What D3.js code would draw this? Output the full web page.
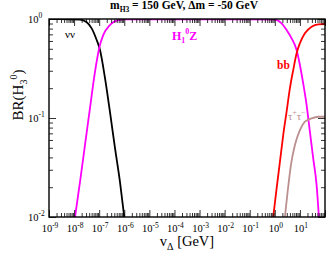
<!DOCTYPE html>
<html>
<head>
<meta charset="utf-8">
<script src="https://cdn.jsdelivr.net/npm/d3@7"></script>
<style>
  body { margin: 0; background: #fff; }
  svg { display: block; font-family: "Liberation Serif", "DejaVu Serif", serif; }
</style>
</head>
<body>
<div id="chart"></div>
<script>
// H3^0 -> nu nu
const nunuV  = [1e-9, 2.8e-9, 1.72e-8, 3.18e-8, 5.02e-8, 7.94e-8, 1.08e-7, 1.70e-7, 2.69e-7, 4.26e-7, 6.74e-7, 1.0e-6];
const nunuBR = [1.0, 1.0, 0.984, 0.926, 0.805, 0.614, 0.486, 0.254, 0.115, 0.0498, 0.0226, 0.01];

// H3^0 -> H1^0 Z
const h1zV  = [1.09e-8, 1.72e-8, 2.72e-8, 4.30e-8, 6.80e-8, 1.01e-7, 1.46e-7, 2.69e-7, 5.77e-7, 1.25e-6, 0.0644, 1.01, 1.87, 2.95, 4.67, 7.39, 10.0, 13.5, 18.5, 25.0, 33.9, 46.2, 57.1];
const h1zBR = [0.01, 0.0226, 0.0534, 0.126, 0.292, 0.513, 0.69, 0.87, 0.975, 0.993, 0.993, 0.985, 0.905, 0.774, 0.638, 0.486, 0.343, 0.224, 0.135, 0.0727, 0.0392, 0.0211, 0.01];

// H3^0 -> b b
const bbV  = [0.863, 1.18, 1.60, 2.16, 2.95, 4.00, 5.41, 7.39, 10.0, 15.8, 29.2, 53.6, 100];
const bbBR = [0.01, 0.0195, 0.0362, 0.0673, 0.116, 0.200, 0.305, 0.451, 0.569, 0.718, 0.836, 0.884, 0.890];

// H3^0 -> tau tau
const tauV  = [2.52, 3.24, 4.38, 6.32, 10.0, 15.8, 29.2, 53.6, 100];
const tauBR = [0.01, 0.018, 0.0335, 0.0534, 0.0756, 0.0918, 0.0993, 0.103, 0.103];

const xMajor = [-9, -8, -7, -6, -5, -4, -3, -2, -1, 0, 1];   // labelled exponents
const yMajor = [0, -1, -2];

const width = 327, height = 255;
const margin = { top: 19, right: 2, bottom: 38, left: 49 };
const w = width - margin.left - margin.right;
const h = height - margin.top - margin.bottom;

const svg = d3.select("#chart").append("svg")
    .attr("width", width)
    .attr("height", height);

const g = svg.append("g")
    .attr("transform", `translate(${margin.left},${margin.top})`);

const x = d3.scaleLog().domain([1e-9, 1e2]).range([0, w]);
const y = d3.scaleLog().domain([1e-2, 1]).range([h, 0]);

const xAll = x.ticks(20);
const yAll = y.ticks(20);
const isPow = v => Math.abs(Math.log10(v) - Math.round(Math.log10(v))) < 1e-6;
const xMin = xAll.filter(v => !isPow(v)), xMaj = xAll.filter(isPow);
const yMin = yAll.filter(v => !isPow(v)), yMaj = yAll.filter(isPow);

g.append("clipPath").attr("id", "clip")
  .append("rect").attr("width", w).attr("height", h);

// curves
const series = [
    { v: nunuV, br: nunuBR, color: "#000000" },
    { v: h1zV, br: h1zBR, color: "#ff00ff" },
    { v: tauV, br: tauBR, color: "#bc8f8f" },
    { v: bbV, br: bbBR, color: "#ff0000" }
];

const line = d3.line()
    .x(d => x(d[0]))
    .y(d => y(d[1]))
    .curve(d3.curveMonotoneX);

g.append("g").attr("clip-path", "url(#clip)")
  .selectAll("path")
  .data(series)
  .enter()
  .append("path")
  .attr("d", s => line(s.v.map((v, i) => [v, s.br[i]])))
  .attr("fill", "none")
  .attr("stroke", s => s.color)
  .attr("stroke-width", 1.8);

// ticks, inside on all four sides
function tickAxis(axis, values, size) {
    return axis.tickValues(values).tickSizeInner(-size).tickSizeOuter(0).tickFormat("");
}
const tickStyle = sel => {
    sel.select(".domain").remove();
    sel.selectAll(".tick line").attr("stroke", "#000").attr("stroke-width", 0.8);
};

g.append("g").attr("transform", `translate(0,${h})`).call(tickAxis(d3.axisBottom(x), xMin, 4)).call(tickStyle);
g.append("g").attr("transform", `translate(0,${h})`).call(tickAxis(d3.axisBottom(x), xMaj, 7)).call(tickStyle);
g.append("g").call(tickAxis(d3.axisTop(x), xMin, 4)).call(tickStyle);
g.append("g").call(tickAxis(d3.axisTop(x), xMaj, 7)).call(tickStyle);
g.append("g").call(tickAxis(d3.axisLeft(y), yMin, 4)).call(tickStyle);
g.append("g").call(tickAxis(d3.axisLeft(y), yMaj, 7)).call(tickStyle);
g.append("g").attr("transform", `translate(${w},0)`).call(tickAxis(d3.axisRight(y), yMin, 4)).call(tickStyle);
g.append("g").attr("transform", `translate(${w},0)`).call(tickAxis(d3.axisRight(y), yMaj, 7)).call(tickStyle);

// frame
g.append("rect")
  .attr("width", w).attr("height", h)
  .attr("fill", "none").attr("stroke", "#000").attr("stroke-width", 1.4);

// tick labels
const xl = g.append("g").selectAll("text")
  .data(xMajor).enter().append("text")
  .attr("x", e => x(Math.pow(10, e)) + 1)
  .attr("y", h + 15)
  .attr("text-anchor", "middle")
  .attr("font-size", 10.5);
xl.append("tspan").text("10");
xl.append("tspan").attr("font-size", 7.5).attr("dy", -4.5).text(e => e);

const yl = g.append("g").selectAll("text")
  .data(yMajor).enter().append("text")
  .attr("x", -21)
  .attr("y", e => y(Math.pow(10, e)) + 3.5)
  .attr("font-size", 10.5);
yl.append("tspan").text("10");
yl.append("tspan").attr("font-size", 7.5).attr("dy", -4.5).text(e => e);

// axis titles
const xt = svg.append("text")
  .attr("x", margin.left + w / 2)
  .attr("y", 246)
  .attr("text-anchor", "middle")
  .attr("font-size", 14.5);
xt.append("tspan").text("v");
xt.append("tspan").attr("font-size", 10).attr("dy", 4).text("Δ");
xt.append("tspan").attr("dy", -4).text(" [GeV]");

const yt = svg.append("text")
  .attr("transform", "translate(23,95) rotate(-90)")
  .attr("text-anchor", "middle")
  .attr("font-size", 15);
yt.append("tspan").text("BR(H");
yt.append("tspan").attr("font-size", 10).attr("dy", 3.5).text("3");
yt.append("tspan").attr("font-size", 10).attr("dy", -10).text("0");
yt.append("tspan").attr("dy", 6.5).text(")");

// title
const tt = svg.append("text")
  .attr("x", 184)
  .attr("y", 9)
  .attr("text-anchor", "middle")
  .attr("font-size", 11.5)
  .attr("font-weight", "bold");
tt.append("tspan").text("m");
tt.append("tspan").attr("font-size", 7.5).attr("dy", 2.5).text("H3");
tt.append("tspan").attr("dy", -2.5).text(" = 150 GeV, Δm = -50 GeV");

// curve labels
svg.append("text")
  .attr("x", 65).attr("y", 38)
  .attr("font-size", 11)
  .text("νν");

const hz = svg.append("text")
  .attr("x", 172).attr("y", 40)
  .attr("font-size", 12)
  .attr("font-weight", "bold")
  .attr("fill", "#ff00ff");
hz.append("tspan").text("H");
hz.append("tspan").attr("font-size", 8).attr("dy", 3).text("1");
hz.append("tspan").attr("font-size", 8).attr("dy", -9).text("0");
hz.append("tspan").attr("dy", 6).text("Z");

svg.append("text")
  .attr("x", 277).attr("y", 69)
  .attr("font-size", 11.5)
  .attr("font-weight", "bold")
  .attr("fill", "#ff0000")
  .text("bb");

const tl = svg.append("text")
  .attr("x", 288).attr("y", 120)
  .attr("font-size", 11)
  .attr("fill", "#bc8f8f");
tl.append("tspan").text("τ");
tl.append("tspan").attr("font-size", 7.5).attr("dy", -5).text("+");
tl.append("tspan").attr("dy", 5).text("τ");
tl.append("tspan").attr("font-size", 7.5).attr("dy", -5).text("−");
</script>
</body>
</html>
